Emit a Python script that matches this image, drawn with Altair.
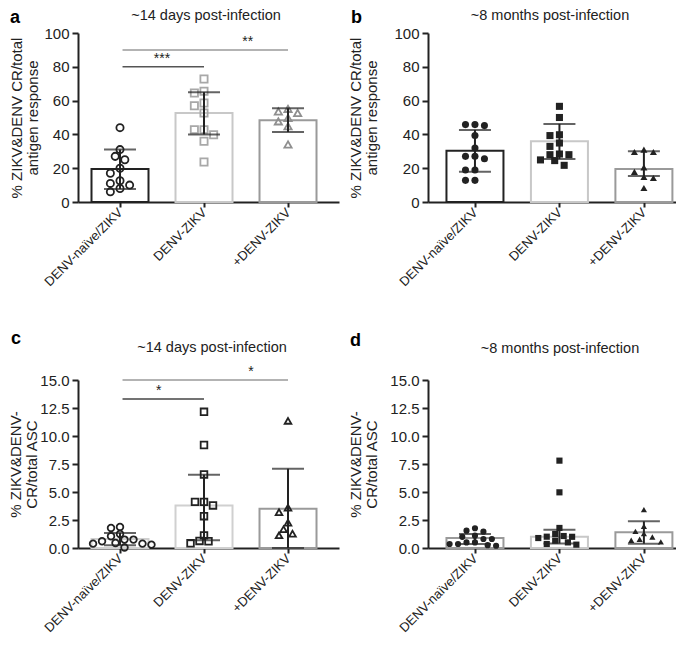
import altair as alt
import pandas as pd

groups = ["DENV-naïve/ZIKV", "DENV-ZIKV", "+DENV-ZIKV"]

# ---- panel a (~14 days, antigen response) ----
a_g1 = [44, 31, 27, 25, 20, 17, 12.6, 11, 10, 8, 6]
a_g2 = [72.8, 65.5, 64.5, 58.6, 57, 52.7, 42.8, 42.8, 39.8, 35.9, 23.7]
a_g3 = [55.1, 53.6, 52.7, 49.7, 47.7, 44.8, 34]
a_bar = [19.5, 52.7, 48.3]
a_lo = [7.7, 40, 41.4]
a_hi = [31, 65, 55.5]

# ---- panel b (~8 months, antigen response) ----
b_g1 = [45.8, 45.2, 45.8, 39.3, 32, 27, 25.6, 27, 18.9, 18.9, 12.8, 12.8]
b_g2 = [56.6, 50, 39.3, 39.8, 34.9, 32.9, 28, 28, 28.4, 24.9, 24.5, 21.7]
b_g3 = [31, 29.6, 29.6, 20.5, 17.8, 14.8, 14.2, 8.3]
b_bar = [30.3, 36, 19.6]
b_lo = [17.9, 25.5, 15.4]
b_hi = [42.6, 46.2, 30]

# ---- panel c (~14 days, ASC) ----
c_g1 = [1.88, 1.79, 1.25, 1.05, 0.75, 0.75, 0.6, 0.45, 0.39, 0.39, 0.3, 0.05]
c_g2 = [12.16, 9.2, 6.57, 4.12, 4.12, 3.8, 2.84, 1.13, 0.63, 0.6, 0.42]
c_g3 = [11.35, 3.6, 3.2, 2.26, 1.67, 1.28, 1.13]
c_bar = [0.8, 3.8, 3.5]
c_lo = [0.25, 0.7, 0.0]
c_hi = [1.35, 6.55, 7.08]

# ---- panel d (~8 months, ASC) ----
d_g1 = [1.76, 1.55, 1.46, 1.1, 1.0, 0.8, 0.8, 0.5, 0.5, 0.36, 0.36, 0.25, 0.2]
d_g2 = [7.8, 4.97, 1.79, 1.25, 1.07, 1.01, 1.0, 0.89, 0.65, 0.5, 0.36, 0.3]
d_g3 = [3.42, 1.94, 1.49, 1.28, 0.98, 0.78, 0.69, 0.54]
d_bar = [0.89, 1.0, 1.4]
d_lo = [0.36, 0.4, 0.38]
d_hi = [1.25, 1.62, 2.38]

# significance annotations: (from group, to group, y level, label)
a_sig = [(0, 1, 80, "***"), (0, 2, 90, "**")]
c_sig = [(0, 1, 13.3, "*"), (0, 2, 15.0, "*")]
a_star_x = [0.5, 1.52]
c_star_x = [0.46, 1.56]

FONT = "Liberation Sans"
INK = "#222222"


def swarm(vals, ppu, diam, ppx):
    """Deterministic beeswarm offsets (in x data units)."""
    order = sorted(range(len(vals)), key=lambda i: -vals[i])
    placed = []
    res = [0.0] * len(vals)
    step = diam * 0.5
    cands = [0.0]
    for k in range(1, 14):
        cands += [-k * step, k * step]
    for i in order:
        y = vals[i] * ppu
        for c in cands:
            if all((c - px) ** 2 + (y - py) ** 2 >= (diam * 0.78) ** 2 for px, py in placed):
                break
        placed.append((c, y))
        res[i] = c / ppx
    return res


def panel(vals, bar, lo, hi, ymax, yvals, yfmt, ytitle, tpad, title, title_xy,
          letter, letter_xy, xdom, width, height, shapes, filled, mcols,
          bcols, msize, sig=None, star_x=None, sigcols=None):
    ppx = width / (xdom[1] - xdom[0])
    ppu = height / ymax
    diam = (msize / 3.14159) ** 0.5 * 2 + 1.5
    rows = []
    for gi, vs in enumerate(vals):
        offs = swarm(vs, ppu, diam, ppx)
        for v, o in zip(vs, offs):
            rows.append({"x": gi + o, "y": v, "shp": shapes[gi], "col": mcols[gi]})
    pts = pd.DataFrame(rows)
    bars = pd.DataFrame({"i": [0, 1, 2], "m": bar, "lo": lo, "hi": hi, "bc": bcols})
    one = pd.DataFrame({"k": [0]})

    xsc = alt.Scale(domain=xdom, nice=False, zero=False, padding=0)
    ysc = alt.Scale(domain=[0, ymax], nice=False, padding=0)
    labexpr = "[" + ",".join("'" + g + "'" for g in groups) + "][datum.value]"
    xax = alt.Axis(values=[0, 1, 2], labelExpr=labexpr, labelAngle=-45,
                   labelAlign="right", labelBaseline="middle", title=None,
                   grid=False, labelPadding=3, tickSize=5, labelFontSize=13,
                   labelOverlap=False)
    yax = alt.Axis(values=yvals, format=yfmt, title=ytitle, grid=False,
                   tickSize=6, labelPadding=3, titlePadding=tpad, labelOverlap=False)

    def X(f):
        return alt.X(f, scale=xsc, axis=xax)

    def Y(f):
        return alt.Y(f, scale=ysc, axis=yax)

    base_bar = alt.Chart(bars).mark_bar(fill="white", strokeWidth=2, size=57).encode(
        x=X("i:Q"), y=Y("m:Q"), y2=alt.datum(0),
        stroke=alt.Stroke("bc:N", scale=None),
    )
    ptsl = alt.Chart(pts).mark_point(filled=filled, strokeWidth=1.8, size=msize, opacity=1).encode(
        x=X("x:Q"), y=Y("y:Q"),
        shape=alt.Shape("shp:N", scale=None),
        color=alt.Color("col:N", scale=None),
    )
    err = alt.Chart(bars).mark_rule(color=INK, strokeWidth=2).encode(
        x=X("i:Q"), y=Y("lo:Q"), y2="hi:Q")
    cap_hi = alt.Chart(bars).mark_tick(orient="horizontal", size=32, thickness=2, color=INK).encode(
        x=X("i:Q"), y=Y("hi:Q"))
    cap_lo = alt.Chart(bars).mark_tick(orient="horizontal", size=32, thickness=2, color=INK).encode(
        x=X("i:Q"), y=Y("lo:Q"))
    lay = [base_bar, ptsl, err, cap_hi, cap_lo]
    if sig:
        sdf = pd.DataFrame({"x1": [s[0] + 0.03 for s in sig], "x2": [s[1] for s in sig],
                            "y": [s[2] for s in sig], "s": [s[3] for s in sig],
                            "sx": star_x, "c": sigcols})
        lay.append(alt.Chart(sdf).mark_rule(strokeWidth=1.5).encode(
            x=X("x1:Q"), x2="x2:Q", y=Y("y:Q"),
            color=alt.Color("c:N", scale=None)))
        lay.append(alt.Chart(sdf).mark_text(fontSize=14, baseline="bottom", dy=-1, color=INK, font=FONT).encode(
            x=X("sx:Q"), y=Y("y:Q"), text="s:N"))
    lay.append(alt.Chart(one).mark_text(fontSize=18, fontWeight="bold", align="left",
                                        baseline="alphabetic", color="black", font=FONT).encode(
        x=alt.value(letter_xy[0]), y=alt.value(letter_xy[1]), text=alt.value(letter)))
    lay.append(alt.Chart(one).mark_text(fontSize=14.5, align="center", baseline="middle",
                                        color=INK, font=FONT).encode(
        x=alt.value(title_xy[0]), y=alt.value(title_xy[1]), text=alt.value(title)))
    return alt.layer(*lay).properties(width=width, height=height)


ab_title = ["% ZIKV&DENV CR/total", "antigen response"]
cd_title = ["% ZIKV&DENV-", "CR/total ASC"]
y100 = [0, 20, 40, 60, 80, 100]
y15 = [0, 2.5, 5, 7.5, 10, 12.5, 15]
SH = ["circle", "square", "triangle-up"]

pa = panel([a_g1, a_g2, a_g3], a_bar, a_lo, a_hi, 100, y100, "d", ab_title, 3.5,
           "~14 days post-infection", (128, -17), "a", (-68, -10), [-0.5, 2.607], 261, 169,
           SH, False, [INK, "#a8a8a8", "#8f8f8f"],
           [INK, "#c8c8c8", "#9a9a9a"], 52, a_sig, a_star_x, ["#555555", "#9a9a9a"])
pb = panel([b_g1, b_g2, b_g3], b_bar, b_lo, b_hi, 100, y100, "d", ab_title, 14.5,
           "~8 months post-infection", (122, -17), "b", (-77, -10), [-0.556, 2.38], 248, 169,
           SH, True, [INK, INK, INK],
           [INK, "#c8c8c8", "#9a9a9a"], 50)
pc = panel([c_g1, c_g2, c_g3], c_bar, c_lo, c_hi, 15, y15, ".1f", cd_title, 0,
           "~14 days post-infection", (134, -32), "c", (-67, -36), [-0.5, 2.607], 261, 168,
           SH, False, [INK, INK, INK],
           ["#d0d0d0", "#d0d0d0", "#9a9a9a"], 44, c_sig, c_star_x, ["#444444", "#9a9a9a"])
pd_ = panel([d_g1, d_g2, d_g3], d_bar, d_lo, d_hi, 15, y15, ".1f", cd_title, 10.5,
            "~8 months post-infection", (132, -31), "d", (-78, -34), [-0.556, 2.38], 248, 168,
            SH, True, [INK, INK, INK],
            ["#9a9a9a", "#c8c8c8", "#9a9a9a"], 38)

chart = alt.concat(pa, pb, pc, pd_, columns=2, spacing={"row": 178, "column": 89},
                   bounds="flush").configure(
    font=FONT, padding={"left": 0, "top": 0, "right": 0, "bottom": 0}
).configure_view(stroke=None).configure_axis(
    domainColor=INK, domainWidth=2, tickColor=INK, tickWidth=2,
    labelFont=FONT, labelFontSize=15, labelColor=INK,
    titleFont=FONT, titleFontSize=15, titleFontWeight="normal", titleColor=INK,
    titleLineHeight=16,
).configure_axisY(labelOverlap=False)

chart.save("out.html", embed_options={"renderer": "svg", "actions": False})
